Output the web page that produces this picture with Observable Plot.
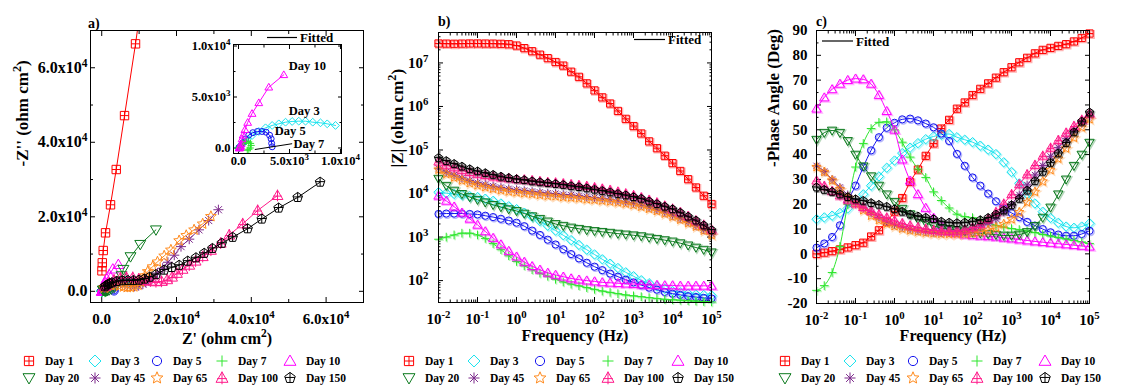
<!DOCTYPE html>
<html>
<head>
<meta charset="utf-8">
<script src="https://cdn.jsdelivr.net/npm/d3@7"></script>
<script src="https://cdn.jsdelivr.net/npm/@observablehq/plot@0.6"></script>
<style>
html,body{margin:0;padding:0;background:#fff;}
#root{position:relative;width:1129px;height:385px;overflow:hidden;background:#fff;}
#root svg{position:absolute;overflow:visible;}
</style>
</head>
<body>
<div id="root"></div>
<script>
// ---------------- DATA ----------------
const days = ["Day 1","Day 3","Day 5","Day 7","Day 10","Day 20","Day 45","Day 65","Day 100","Day 150"];
const colors = ["#ff0000","#19e3ee","#1414f0","#2ee62e","#ff00ff","#0c7a1e","#7d2a8c","#ff8a1c","#ff1a8a","#000000"];

// frequencies (Hz)
const freq = [0.01,0.0158,0.0251,0.0398,0.0631,0.1,0.158,0.251,0.398,0.631,1,1.58,2.51,3.98,6.31,10,15.8,25.1,39.8,63.1,100,158,251,398,631,1000,1580,2510,3980,6310,10000,15800,25100,39800,63100,100000];

// |Z| (ohm cm2)
const modDay1 = [2.8e7,2.78e7,2.76e7,2.78e7,2.8e7,2.8e7,2.79e7,2.78e7,2.75e7,2.69e7,2.51e7,2.19e7,1.86e7,1.55e7,1.29e7,1.05e7,8.7e6,6.3e6,4.8e6,3.4e6,2.34e6,1.62e6,1.17e6,7.9e5,5.2e5,3.55e5,2.4e5,1.58e5,1.1e5,7.4e4,5.0e4,3.3e4,2.14e4,1.38e4,8.9e3,5.75e3];
const modDay3 = [1.07e4,1.02e4,9.8e3,9.3e3,8.7e3,8.3e3,7.6e3,6.8e3,5.9e3,5.1e3,4.37e3,3.63e3,2.95e3,2.34e3,1.82e3,1.41e3,1.1e3,851,661,513,398,309,245,195,155,126,102,87,74,65,57.5,53.7,50.1,47.9,46.8,45.7];
const modDay5 = [3.39e3,3.47e3,3.47e3,3.47e3,3.39e3,3.31e3,3.09e3,2.88e3,2.63e3,2.4e3,2.14e3,1.78e3,1.41e3,1.12e3,871,676,525,407,324,257,209,174,145,123,105,91,79,69,62,55,50,47,44,42,40,39];
const modDay7 = [891,1000,1120,1230,1230,1120,933,708,513,372,275,219,178,148,126,107,93,83,76,69,63,57.5,53.7,50.1,46.8,44.7,42.7,40.7,38.9,37.2,36.3,35.5,34.7,33.9,33.1,32.4];
const modDay10 = [8.9e3,6.8e3,5.0e3,3.63e3,2.63e3,1.91e3,1.35e3,955,676,479,355,269,214,178,151,135,123,112,105,100,95.5,91.2,89.1,87.1,85.1,83.2,81.3,79.4,79.4,77.6,77.6,75.9,75.9,75.9,75.9,75.9];
const modDay20 = [2.19e4,1.51e4,1.17e4,9.8e3,8.3e3,7.2e3,6.3e3,5.5e3,4.9e3,4.37e3,3.98e3,3.47e3,3.02e3,2.63e3,2.29e3,2.0e3,1.82e3,1.66e3,1.55e3,1.45e3,1.38e3,1.32e3,1.26e3,1.2e3,1.15e3,1.1e3,1.05e3,977,912,851,794,724,646,575,513,447];
const modDay45 = [3.8e4,3.16e4,2.69e4,2.29e4,2.0e4,1.78e4,1.62e4,1.48e4,1.38e4,1.29e4,1.23e4,1.17e4,1.12e4,1.07e4,1.02e4,1.0e4,9.5e3,9.3e3,8.9e3,8.5e3,8.1e3,7.8e3,7.4e3,6.9e3,6.5e3,6.0e3,5.5e3,4.9e3,4.27e3,3.72e3,3.16e3,2.69e3,2.24e3,1.82e3,1.48e3,1.2e3];
const modDay65 = [3.55e4,2.82e4,2.34e4,2.0e4,1.74e4,1.55e4,1.41e4,1.29e4,1.2e4,1.12e4,1.07e4,1.02e4,9.8e3,9.3e3,8.9e3,8.7e3,8.3e3,8.1e3,7.8e3,7.4e3,7.2e3,6.9e3,6.6e3,6.3e3,5.9e3,5.5e3,5.0e3,4.47e3,3.98e3,3.47e3,2.95e3,2.51e3,2.09e3,1.74e3,1.41e3,1.12e3];
const modDay100 = [5.4e4,4.57e4,3.98e4,3.47e4,3.09e4,2.82e4,2.63e4,2.45e4,2.34e4,2.24e4,2.14e4,2.09e4,2.0e4,1.91e4,1.82e4,1.78e4,1.7e4,1.62e4,1.55e4,1.48e4,1.38e4,1.29e4,1.2e4,1.1e4,1.0e4,9.1e3,8.1e3,7.1e3,6.2e3,5.25e3,4.47e3,3.72e3,3.02e3,2.4e3,1.91e3,1.48e3];
const modDay150 = [6.6e4,5.6e4,4.8e4,4.17e4,3.63e4,3.24e4,2.95e4,2.69e4,2.45e4,2.29e4,2.14e4,2.04e4,1.91e4,1.82e4,1.74e4,1.66e4,1.58e4,1.48e4,1.41e4,1.32e4,1.23e4,1.15e4,1.07e4,9.8e3,9.1e3,8.3e3,7.6e3,6.6e3,5.75e3,5.0e3,4.37e3,3.63e3,2.95e3,2.4e3,1.86e3,1.45e3];

// -Phase angle (deg)
const phDay1 = [0,0.5,1.1,1.8,2.6,3.5,4.5,7.0,9.5,13.0,17.0,22.5,29.0,34.0,39.5,44.5,50.5,54.0,58.5,61.0,64.0,66.5,68.7,71.0,73.2,75.2,77.2,79.0,80.8,82.2,83.0,83.8,84.5,85.6,87.0,88.8];
const phDay3 = [14.0,14.7,15.4,16.5,18.3,20.8,24.0,27.5,31.2,34.7,37.6,40.6,42.8,44.6,46.2,47.3,48.0,48.3,47.0,46.0,45.0,43.6,42.0,40.2,36.9,33.0,28.4,24.1,20.3,17.0,14.5,12.5,11.0,10.5,11.0,12.3];
const phDay5 = [2.5,4.2,6.8,11.5,21.0,27.5,35.0,41.7,47.0,50.8,52.8,54.2,54.5,53.8,52.5,51.0,48.5,45.5,40.3,35.5,30.8,27.5,24.3,21.2,18.3,16.5,14.8,12.9,11.4,10.0,8.7,7.8,7.3,7.3,8.0,9.3];
const phDay7 = [-14.7,-12.8,-7.5,3.0,20.0,35.0,44.5,50.5,53.0,53.2,50.0,45.0,39.0,34.2,30.8,25.0,21.5,18.5,16.0,15.0,14.6,13.5,12.5,11.5,10.8,10.2,9.8,9.2,8.6,7.8,7.2,6.6,6.0,5.4,4.8,4.2];
const phDay10 = [58.5,63.0,66.3,68.5,70.0,70.6,70.3,68.5,64.0,57.5,50.0,38.0,29.5,24.0,18.5,14.5,11.5,9.5,8.3,7.8,7.5,7.3,7.1,6.9,6.5,6.2,5.8,5.4,5.0,4.7,4.4,4.1,3.8,3.5,3.2,2.9];
const phDay20 = [46.0,48.8,49.7,48.8,45.5,40.0,35.3,31.3,27.5,24.0,21.0,18.2,16.0,14.0,12.5,11.3,10.5,10.0,9.5,9.0,8.6,8.3,8.0,7.7,7.4,7.4,7.8,8.8,11.3,14.6,18.7,24.0,30.0,35.5,40.0,44.8];
const phDay45 = [35.5,33.2,30.0,26.8,23.8,21.2,18.8,16.6,14.7,13.1,11.8,10.8,10.0,9.4,9.0,8.7,8.6,8.6,8.8,9.2,9.9,10.9,12.3,14.2,16.8,20.0,23.8,27.8,31.8,35.6,39.3,42.9,46.4,49.7,52.8,55.6];
const phDay65 = [35.0,33.0,29.6,26.0,22.7,20.3,17.6,15.4,13.6,12.2,11.2,10.2,9.5,9.0,8.6,8.3,8.1,8.0,8.0,8.1,8.4,8.9,9.6,10.6,12.0,14.0,16.8,20.8,25.0,29.2,33.8,38.4,42.5,46.8,51.0,54.3];
const phDay100 = [29.5,27.3,25.3,23.5,21.8,20.3,18.8,17.3,15.9,14.6,13.4,12.3,11.4,10.7,10.1,9.6,9.3,9.2,9.3,9.8,10.7,12.0,14.0,16.8,20.2,24.0,28.0,32.0,35.8,39.5,42.7,45.8,48.8,51.5,54.0,56.5];
const phDay150 = [26.8,25.8,25.0,24.0,22.9,22.0,21.4,20.5,19.8,19.0,18.0,17.0,15.9,15.1,14.6,14.0,13.0,12.6,12.4,12.6,13.0,13.6,14.5,15.9,17.5,19.6,22.2,25.5,29.3,33.1,36.7,40.5,44.7,49.0,53.3,57.0];

// Nyquist points [Z', -Z''] (ohm cm2)
const nyqDay1 = [[60,5500],[150,7650],[400,10950],[1020,15700],[2350,23220],[3880,32690],[6100,47160],[9040,66420],[12600,92000]];
const nyqDay3 = [[45,10],[56,14],[80,35],[106,69],[149,126],[224,213],[450,450],[850,830],[1340,1230],[1990,1620],[2650,1980],[3300,2210],[3950,2370],[4610,2530],[5260,2600],[5910,2630],[6570,2630],[7280,2530],[8040,2470],[8700,2370],[9510,2210]];
const nyqDay5 = [[38,6],[49,8],[87,26],[115,44],[180,107],[286,289],[425,525],[700,900],[1000,1250],[1400,1500],[1850,1620],[2300,1620],[2700,1550],[3050,1250],[3200,900],[3250,450],[3300,120]];
const nyqDay7 = [[32,2],[40,6],[55,12],[80,40],[120,110],[180,210],[280,330],[400,450],[560,560],[780,660],[1000,600],[1180,450],[1240,250],[1150,0],[1010,-130],[860,-220]];
const nyqDay10 = [[76,4],[83,9],[95,12],[131,34],[186,105],[200,200],[257,404],[350,890],[450,1250],[631,1790],[900,2500],[1330,3380],[1990,4430],[2970,5960],[4440,7180]];
const nyqDay20 = [[320,315],[393,330],[560,323],[752,255],[894,179],[1090,140],[1310,190],[1530,256],[1960,390],[2550,640],[3300,1080],[3990,1780],[4700,2860],[5300,4200],[5800,5900],[7700,9300],[10300,12600],[14500,16500]];
const nyqDay45 = [[680,990],[895,1180],[1545,1620],[2440,2000],[3630,2250],[5030,2220],[6220,1880],[7660,1475],[8800,1360],[9900,1510],[11000,1950],[11800,2400],[12500,3000],[13400,3800],[14900,4900],[16300,6200],[17700,7800],[19400,9700],[21200,12000],[23400,14000],[26000,16500],[28600,19000],[31200,21900]];
const nyqDay65 = [[654,910],[890,1100],[1540,1410],[2450,1640],[3600,1680],[4800,1440],[5800,1230],[6800,1070],[7700,1090],[8600,1260],[9700,1700],[10400,2500],[11000,3300],[11600,4200],[12300,5300],[13600,6600],[14900,7900],[16700,9500],[18500,11100],[20700,13600],[22600,15000],[24700,16500],[27000,18100],[29200,20100]];
const nyqDay100 = [[820,1240],[1120,1550],[2000,2270],[3300,3000],[5000,3600],[6600,3750],[8300,3700],[9900,3300],[11600,2900],[13000,2700],[14500,2550],[16000,2650],[17500,3100],[18800,3800],[20100,4800],[21600,5900],[23400,7000],[25100,8100],[27000,9300],[29200,11000],[31800,12900],[34100,15100],[37700,18100],[41700,21700],[47000,25700]];
const nyqDay150 = [[790,1216],[1110,1490],[1575,1810],[2100,2075],[2700,2300],[4000,2650],[5500,2850],[7000,2900],[8500,2900],[10000,3000],[11400,3300],[12800,3800],[14500,4500],[16700,5700],[18700,6400],[20700,7000],[23000,8100],[25200,9000],[27400,10200],[29600,11500],[32100,12900],[35000,14500],[39000,16800],[42800,19400],[47300,22350],[52400,25200],[58400,29300]];

// inset annotations (data coordinates)
const insetLabels = [{t:"Day 10",x:4930,y:8020},{t:"Day 3",x:4930,y:3610},{t:"Day 5",x:3560,y:1620},{t:"Day 7",x:5390,y:440}];
const insetLeader = [{x1:1600,y1:-150,x2:5260,y2:420}];

// ticks
const nyqTicks = [0,20000,40000,60000];
const nyqMinor = [10000,30000,50000];
const insetTicks = [0,5000,10000];
const insetMinor = [2500,7500];
const freqTicks = [1e-2,1e-1,1,10,100,1e3,1e4,1e5];
const modTicks = [1e2,1e3,1e4,1e5,1e6,1e7];
const phaseTicks = [-20,-10,0,10,20,30,40,50,60,70,80,90];
const phaseMinor = [-15,-5,5,15,25,35,45,55,65,75,85];

// ---------------- SYMBOLS ----------------
function sym(fn){ return {draw(c,size){ fn(c, Math.sqrt(size/Math.PI)); }}; }
const symSquarePlus = sym((c,r)=>{ c.moveTo(-r,-r); c.lineTo(r,-r); c.lineTo(r,r); c.lineTo(-r,r); c.closePath(); c.moveTo(-r,0); c.lineTo(r,0); c.moveTo(0,-r); c.lineTo(0,r); });
const symDiamond = sym((c,r)=>{ const a=r*1.3; c.moveTo(0,-a); c.lineTo(a,0); c.lineTo(0,a); c.lineTo(-a,0); c.closePath(); });
const symCircle = sym((c,r)=>{ c.moveTo(r,0); c.arc(0,0,r,0,2*Math.PI); c.closePath(); });
const symPlus = sym((c,r)=>{ const a=r*1.2; c.moveTo(-a,0); c.lineTo(a,0); c.moveTo(0,-a); c.lineTo(0,a); });
const symTriUp = sym((c,r)=>{ const a=r*1.3; c.moveTo(0,-a); c.lineTo(a,a*0.72); c.lineTo(-a,a*0.72); c.closePath(); });
const symTriDown = sym((c,r)=>{ const a=r*1.3; c.moveTo(0,a); c.lineTo(a,-a*0.72); c.lineTo(-a,-a*0.72); c.closePath(); });
const symAsterisk = sym((c,r)=>{ const a=r*1.2; for(let k=0;k<4;k++){ const t=k*Math.PI/4; c.moveTo(-a*Math.cos(t),-a*Math.sin(t)); c.lineTo(a*Math.cos(t),a*Math.sin(t)); } });
const symStar = sym((c,r)=>{ const R=r*1.35, ri=R*0.45; for(let k=0;k<10;k++){ const t=-Math.PI/2+k*Math.PI/5, rr=k%2?ri:R; const x=rr*Math.cos(t), y=rr*Math.sin(t); if(k) c.lineTo(x,y); else c.moveTo(x,y);} c.closePath(); });
const symTriCross = sym((c,r)=>{ const a=r*1.3; c.moveTo(0,-a); c.lineTo(a,a*0.72); c.lineTo(-a,a*0.72); c.closePath(); c.moveTo(0,-a*1.1); c.lineTo(0,a*1.05); c.moveTo(-a*0.8,a*0.1); c.lineTo(a*0.8,a*0.1); });
const symPentCross = sym((c,r)=>{ const a=r*1.2; for(let k=0;k<5;k++){ const t=-Math.PI/2+k*2*Math.PI/5; const x=a*Math.cos(t), y=a*Math.sin(t); if(k) c.lineTo(x,y); else c.moveTo(x,y);} c.closePath(); c.moveTo(-a*0.92,-a*0.1); c.lineTo(a*0.92,-a*0.1); c.moveTo(0,-a); c.lineTo(0,a*0.81); });
const symbols = [symSquarePlus,symDiamond,symCircle,symPlus,symTriUp,symTriDown,symAsterisk,symStar,symTriCross,symPentCross];

const mods = [modDay1,modDay3,modDay5,modDay7,modDay10,modDay20,modDay45,modDay65,modDay100,modDay150];
const phs = [phDay1,phDay3,phDay5,phDay7,phDay10,phDay20,phDay45,phDay65,phDay100,phDay150];
const nyqs = [nyqDay1,nyqDay3,nyqDay5,nyqDay7,nyqDay10,nyqDay20,nyqDay45,nyqDay65,nyqDay100,nyqDay150];

const series = days.map((day,i)=>({day, color:colors[i], sym:symbols[i], nyq:nyqs[i],
  rows: freq.map((f,j)=>({f, z:mods[i][j], p:phs[i][j]}))}));

// ---------------- HELPERS ----------------
const FONT = "'Liberation Serif','Times New Roman',serif";
const none = () => "";
function frameTicks(axis, major, minor, lenMaj, lenMin){
  const out = [];
  for (const [vals,len] of [[major,lenMaj],[minor,lenMin]]) {
    if (!vals.length) continue;
    if (axis === "x") {
      out.push(Plot.axisX(vals,{anchor:"bottom",tickSize:len,dy:-len,tickFormat:none,label:null}));
      out.push(Plot.axisX(vals,{anchor:"top",tickSize:len,dy:len,tickFormat:none,label:null}));
    } else {
      out.push(Plot.axisY(vals,{anchor:"left",tickSize:len,dx:len,tickFormat:none,label:null}));
      out.push(Plot.axisY(vals,{anchor:"right",tickSize:len,dx:-len,tickFormat:none,label:null}));
    }
  }
  return out;
}
function supify(root){
  d3.select(root).selectAll("text").each(function(){
    const t = this.textContent;
    const m = t.match(/^(.*?)\^(-?\d+)(.*)$/);
    if (!m) return;
    const s = d3.select(this); s.text(null);
    s.append("tspan").text(m[1]);
    s.append("tspan").attr("dy","-0.55em").style("font-size","72%").text(m[2]);
    if (m[3]) s.append("tspan").attr("dy","0.4em").text(m[3]);
  });
}
const baseStyle = {fontFamily:FONT, fontWeight:"bold", background:"transparent", color:"#000", overflow:"visible"};
const fmtNyq = d => d===0 ? "0.0" : (d/1e4).toFixed(1)+"x10^4";
const fmtInset = d => d===0 ? "0.0" : d===5000 ? "5.0x10^3" : "1.0x10^4";
const fmtLog = d => "10^" + Math.round(Math.log10(d));
const root = document.getElementById("root");
function place(svg, left, top){ svg.style.left = left+"px"; svg.style.top = top+"px"; supify(svg); root.appendChild(svg); }

// ---------------- PANEL A (Nyquist) ----------------
const plotA = Plot.plot({
  width:376, height:352, marginLeft:90, marginRight:13, marginTop:30, marginBottom:50,
  style: baseStyle,
  x:{type:"linear", domain:[-3000,70000]},
  y:{type:"linear", domain:[-3000,70000]},
  marks:[
    ...frameTicks("x", nyqTicks, nyqMinor, 5, 3),
    ...frameTicks("y", nyqTicks, nyqMinor, 5, 3),
    Plot.axisX(nyqTicks,{anchor:"bottom",tickSize:0,tickPadding:11,tickFormat:fmtNyq,fontSize:15,label:null}),
    Plot.axisY(nyqTicks,{anchor:"left",tickSize:0,tickPadding:3,tickFormat:fmtNyq,fontSize:16,label:null}),
    ...series.flatMap(s => [
      Plot.line(s.nyq,{x:d=>d[0],y:d=>d[1],stroke:s.color,strokeWidth:1,clip:true}),
      Plot.dot(s.nyq,{x:d=>d[0],y:d=>d[1],symbol:s.sym,r:4.2,stroke:s.color,strokeWidth:1,fill:"none",clip:true})
    ]),
    Plot.frame({stroke:"#000",strokeWidth:1}),
    Plot.text(["-Z'' (ohm cm^2)"],{text:d=>d,frameAnchor:"left",dx:-68,rotate:-90,fontSize:17,fontWeight:"bold"}),
    Plot.text(["Z' (ohm cm^2)"],{text:d=>d,frameAnchor:"bottom",dy:41,fontSize:16,fontWeight:"bold"})
  ]
});
place(plotA, 0, 0);

// inset
const insetSeries = series.filter(s => ["Day 3","Day 5","Day 7","Day 10"].includes(s.day));
const plotInset = Plot.plot({
  width:170, height:145, marginLeft:53, marginRight:9, marginTop:14, marginBottom:22,
  style: baseStyle,
  x:{type:"linear", domain:[-490,10100]},
  y:{type:"linear", domain:[-540,10150]},
  marks:[
    Plot.frame({fill:"white",stroke:"none"}),
    ...frameTicks("x", insetTicks, insetMinor, 4, 2.5),
    ...frameTicks("y", insetTicks, insetMinor, 4, 2.5),
    Plot.axisX(insetTicks,{anchor:"bottom",tickSize:0,tickPadding:3,tickFormat:fmtInset,fontSize:12.5,label:null}),
    Plot.axisY(insetTicks,{anchor:"left",tickSize:0,tickPadding:3,tickFormat:fmtInset,fontSize:12.5,label:null}),
    ...insetSeries.flatMap(s => [
      Plot.line(s.nyq,{x:d=>d[0],y:d=>d[1],stroke:s.color,strokeWidth:1,clip:true}),
      Plot.dot(s.nyq,{x:d=>d[0],y:d=>d[1],symbol:s.sym,r:3,stroke:s.color,strokeWidth:1,fill:"none",clip:true})
    ]),
    Plot.link(insetLeader,{x1:"x1",y1:"y1",x2:"x2",y2:"y2",stroke:"#000",strokeWidth:1}),
    Plot.text(insetLabels,{x:"x",y:"y",text:"t",textAnchor:"start",fontSize:12.5,fontWeight:"bold"}),
    Plot.frame({stroke:"#000",strokeWidth:1})
  ]
});
place(plotInset, 180, 30);

// ---------------- PANEL B (|Z|) ----------------
const freqMinor = freqTicks.slice(0,-1).flatMap(d => [2,3,4,5,6,7,8,9].map(k => d*k));
const modMinor = [10].concat(modTicks).flatMap(d => [2,3,4,5,6,7,8,9].map(k => d*k)).filter(v => v>31.4 && v<5e7);
const plotB = Plot.plot({
  width:376, height:352, marginLeft:62, marginRight:41, marginTop:32, marginBottom:50,
  style: baseStyle,
  x:{type:"log", domain:[0.01,1e5]},
  y:{type:"log", domain:[31.4,5.0e7]},
  marks:[
    ...frameTicks("x", freqTicks, freqMinor, 5, 2.5),
    ...frameTicks("y", modTicks, modMinor, 5, 2.5),
    Plot.axisX(freqTicks,{anchor:"bottom",tickSize:0,tickPadding:11,tickFormat:fmtLog,fontSize:15,label:null}),
    Plot.axisY(modTicks,{anchor:"left",tickSize:0,tickPadding:10,tickFormat:fmtLog,fontSize:15,label:null}),
    ...series.flatMap(s => [
      Plot.dot(s.rows,{x:"f",y:"z",symbol:s.sym,r:3.6,stroke:s.color,strokeOpacity:0.3,strokeWidth:1.6,fill:"none",dx:1,dy:1}),
      Plot.line(s.rows,{x:"f",y:"z",stroke:s.color,strokeWidth:1,curve:"monotone-x"}),
      Plot.dot(s.rows,{x:"f",y:"z",symbol:s.sym,r:3.6,stroke:s.color,strokeWidth:1,fill:"none"})
    ]),
    Plot.frame({stroke:"#000",strokeWidth:1}),
    Plot.text(["|Z| (ohm cm^2)"],{text:d=>d,frameAnchor:"left",dx:-41,rotate:-90,fontSize:17,fontWeight:"bold"}),
    Plot.text(["Frequency (Hz)"],{text:d=>d,frameAnchor:"bottom",dy:38,fontSize:16,fontWeight:"bold"})
  ]
});
place(plotB, 376, 0);

// ---------------- PANEL C (phase) ----------------
const plotC = Plot.plot({
  width:377, height:352, marginLeft:64, marginRight:40, marginTop:30, marginBottom:49,
  style: baseStyle,
  x:{type:"log", domain:[0.01,1e5]},
  y:{type:"linear", domain:[-20,90]},
  marks:[
    ...frameTicks("x", freqTicks, freqMinor, 5, 2.5),
    ...frameTicks("y", phaseTicks, phaseMinor, 5, 2.5),
    Plot.axisX(freqTicks,{anchor:"bottom",tickSize:0,tickPadding:11,tickFormat:fmtLog,fontSize:15,label:null}),
    Plot.axisY(phaseTicks,{anchor:"left",tickSize:0,tickPadding:9,tickFormat:d=>String(d),fontSize:15,label:null}),
    ...series.flatMap(s => [
      Plot.dot(s.rows,{x:"f",y:"p",symbol:s.sym,r:3.6,stroke:s.color,strokeOpacity:0.3,strokeWidth:1.6,fill:"none",dx:1,dy:1}),
      Plot.line(s.rows,{x:"f",y:"p",stroke:s.color,strokeWidth:1,curve:"monotone-x"}),
      Plot.dot(s.rows,{x:"f",y:"p",symbol:s.sym,r:3.6,stroke:s.color,strokeWidth:1,fill:"none"})
    ]),
    Plot.frame({stroke:"#000",strokeWidth:1}),
    Plot.text(["-Phase Angle (Deg)"],{text:d=>d,frameAnchor:"left",dx:-43,rotate:-90,fontSize:17,fontWeight:"bold"}),
    Plot.text(["Frequency (Hz)"],{text:d=>d,frameAnchor:"bottom",dy:37,fontSize:16,fontWeight:"bold"})
  ]
});
place(plotC, 752, 0);

// ---------------- OVERLAY: panel letters, "Fitted" keys, legends ----------------
const ov = d3.select(root).append("svg").attr("width",1129).attr("height",385)
  .style("left","0px").style("top","0px").style("pointer-events","none")
  .attr("font-family",FONT).attr("font-weight","bold");
const letters = [{t:"a)",x:88,y:23},{t:"b)",x:438,y:21},{t:"c)",x:816,y:21}];
ov.selectAll("text.letter").data(letters).join("text").attr("class","letter")
  .attr("x",d=>d.x).attr("y",d=>d.y).attr("dominant-baseline","central").attr("font-size",14).text(d=>d.t);
const fittedKeys = [{x1:267,x2:297,y:37.5},{x1:634,x2:665,y:39.5},{x1:822,x2:853,y:41}];
for (const k of fittedKeys) {
  ov.append("line").attr("x1",k.x1).attr("x2",k.x2).attr("y1",k.y).attr("y2",k.y).attr("stroke","#000").attr("stroke-width",1.2);
  ov.append("text").attr("x",k.x2+3).attr("y",k.y).attr("dominant-baseline","central").attr("font-size",13).text("Fitted");
}
const legendCols = [[29,95,157,222,290],[409,474,540,608,678],[785,850,913,977,1045]];
const legendRows = [361,378];
for (const cols of legendCols) {
  series.forEach((s,i) => {
    const cx = cols[i%5], cy = legendRows[Math.floor(i/5)];
    ov.append("path").attr("d", d3.symbol(s.sym, Math.PI*4.6*4.6)())
      .attr("transform",`translate(${cx},${cy})`).attr("fill","none").attr("stroke",s.color).attr("stroke-width",1);
    ov.append("text").attr("x",cx+16).attr("y",cy).attr("dominant-baseline","central").attr("font-size",11.5).text(s.day);
  });
}
</script>
</body>
</html>
